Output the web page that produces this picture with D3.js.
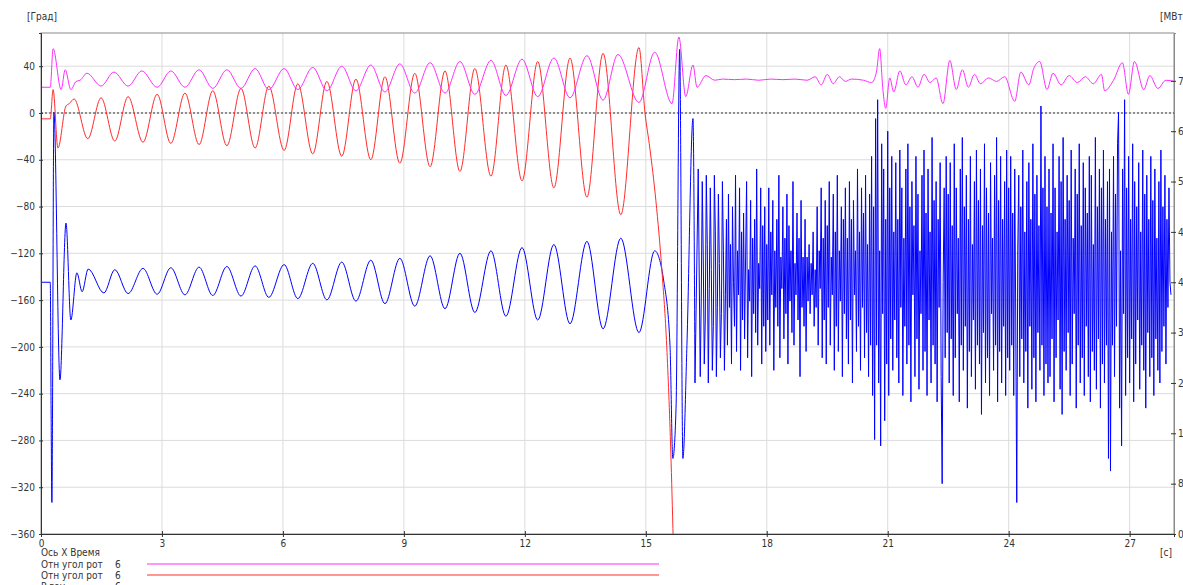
<!DOCTYPE html>
<html>
<head>
<meta charset="utf-8">
<script src="https://cdn.jsdelivr.net/npm/d3@7"></script>
<style>
body { margin: 0; background: #fff; }
svg text { font-family: "DejaVu Sans Condensed", "DejaVu Sans", sans-serif; font-size: 10px; fill: #333; }
</style>
</head>
<body>
<svg id="chart" width="1183" height="585"></svg>
<script>
// axis ticks
let xTicks = [0, 3, 6, 9, 12, 15, 18, 21, 24, 27];
let leftTicks = [-360, -320, -280, -240, -200, -160, -120, -80, -40, 0, 40];
let rightTicks = [0, 8, 16, 24, 32, 40, 48, 56, 64, 72];

// Отн угол рот (magenta), degrees
let magT = [0, 0.23, 0.30, 0.50, 0.60, 0.74, 0.87, 0.97, 1.14, 1.49, 1.81, 2.16, 2.50, 2.88, 3.22, 3.57, 3.92, 4.26, 4.61, 4.96,
    5.31, 5.65, 6.03, 6.37, 6.74, 7.09, 7.46, 7.81, 8.18, 8.53, 8.90, 9.27, 9.65, 10.02, 10.39, 10.76, 11.16, 11.53, 11.93, 12.32,
    12.72, 13.12, 13.54, 13.94, 14.31, 14.83, 15.22, 15.65, 15.82, 15.99, 16.17, 16.27, 16.49, 16.71, 16.9, 17.2, 17.5, 17.8, 18.1, 18.4,
    18.7, 19.0, 19.2, 19.35, 19.5, 19.65, 19.8, 19.95, 20.1, 20.4, 20.6, 20.72, 20.8, 20.88, 20.95, 21.05, 21.15, 21.3, 21.45, 21.6,
    21.75, 21.9, 22.05, 22.2, 22.37, 22.54, 22.7, 22.85, 23.0, 23.15, 23.3, 23.5, 23.7, 23.9, 24.15, 24.3, 24.5, 24.62, 24.77, 24.95,
    25.1, 25.3, 25.5, 25.7, 25.9, 26.1, 26.3, 26.38, 26.6, 26.82, 26.97, 27.12, 27.35, 27.5, 27.7, 27.9, 28.1];
let magV = [22, 22, 55, 20, 37, 20, 27, 28, 34, 23, 35, 23, 36, 22, 36, 22, 37, 21, 37, 21,
    38, 20, 38, 20, 39, 19, 40, 19, 41, 18, 42, 17, 43, 17, 44, 16, 45, 15, 46, 14,
    47, 13, 49, 11, 50, 9, 52, 8, 65, 14, 41, 22, 32, 28, 29, 28.5, 29, 28, 29, 28.5,
    29, 28, 31, 24, 33, 25, 31, 27, 29, 28, 26, 35, 55, 20, 4, 30, 18, 36, 24, 31,
    22, 33, 26, 30, 8, 45, 20, 37, 22, 33, 25, 30, 27, 31, 10, 35, 24, 38, 44, 20,
    34, 24, 32, 26, 31, 25, 33, 19, 28, 43, 16, 44, 20, 32, 21, 28, 27];

// Отн угол рот (red), degrees
let redT = [0, 0.23, 0.30, 0.42, 0.62, 0.70, 0.82, 1.16, 1.49, 1.83, 2.16, 2.53, 2.88, 3.22, 3.57, 3.92, 4.26, 4.61, 4.96, 5.31,
    5.65, 6.03, 6.37, 6.74, 7.09, 7.46, 7.81, 8.18, 8.53, 8.90, 9.27, 9.65, 10.02, 10.39, 10.76, 11.16, 11.53, 11.93, 12.32, 12.72,
    13.12, 13.54, 13.94, 14.38, 14.83, 14.98, 15.10, 15.25, 15.40, 15.52, 15.62, 15.68];
let redV = [-5, -5, 20, -30, 6, 8, 12, -22, 13, -24, 14, -25, 16, -26, 17, -27, 19, -28, 21, -30,
    23, -32, 25, -35, 27, -37, 29, -40, 31, -43, 34, -46, 36, -50, 38, -54, 41, -58, 44, -64,
    47, -72, 51, -87, 56, 0, -30, -75, -135, -200, -290, -365];

// third series (blue), MW, smooth part
let blueT = [0, 0.23, 0.25, 0.27, 0.32, 0.47, 0.62, 0.74, 0.89, 1.02, 1.17, 1.56, 1.83, 2.16, 2.53, 2.88, 3.22, 3.57, 3.92, 4.26,
    4.61, 4.96, 5.31, 5.65, 6.03, 6.37, 6.74, 7.09, 7.46, 7.81, 8.18, 8.53, 8.90, 9.27, 9.65, 10.02, 10.39, 10.76, 11.16, 11.53,
    11.93, 12.32, 12.72, 13.12, 13.54, 13.94, 14.38, 14.83, 15.22, 15.45, 15.60, 15.67, 15.75, 15.84, 15.92, 16.02, 16.17, 16.22];
let blueV = [40, 40, 20, 5, 67, 24.5, 49.4, 34, 41.5, 38.5, 42.1, 38.3, 42.0, 38.2, 42.2, 38.1, 42.3, 38.0, 42.4, 37.9,
    42.5, 37.8, 42.6, 37.6, 42.8, 37.4, 43.0, 37.2, 43.2, 37.0, 43.5, 36.6, 43.8, 36.2, 44.2, 35.8, 44.6, 35.2, 45.0, 34.6,
    45.5, 34.0, 46.0, 33.4, 46.5, 32.6, 47.0, 32.0, 45.0, 40, 30, 12, 20, 77, 12, 30, 66, 24];

// blue, dense part: one sample every 0.025 s from 16.30 s
let blueDenseStart = 16.30;
let blueDenseStep = 0.025;
let blueDense = [
    // 16.30 - 17.0
    58, 41, 25, 37, 56, 44, 27, 34, 57, 46, 24, 39, 55, 42, 26, 33, 57, 48, 25, 36, 54, 43, 28, 35, 56, 45, 26, 38,
    // 17 - 18
    50, 30, 54, 36, 46, 27, 52, 40, 33, 57, 29, 45, 38, 55, 26, 48, 34, 51, 31, 44, 56, 28, 42, 37, 53, 25, 47, 35, 50, 32,
    58, 30, 43, 39, 55, 27, 49, 33, 52, 29,
    // 18 - 19
    46, 34, 55, 30, 48, 38, 53, 26, 45, 36, 50, 33, 57, 28, 44, 39, 52, 31, 47, 35, 54, 27, 49, 37, 45, 32, 56, 30, 43, 38,
    51, 34, 47, 25, 53, 36, 44, 33, 50, 29,
    // 19 - 20
    44, 37, 46, 35, 43, 38, 48, 33, 42, 36, 52, 30, 45, 39, 55, 28, 47, 34, 53, 27, 49, 36, 56, 30, 44, 38, 54, 26, 48, 33,
    57, 29, 45, 37, 52, 25, 50, 35, 55, 31,
    // 20 - 20.6
    47, 27, 56, 34, 50, 24, 53, 38, 45, 29, 58, 33, 48, 26, 55, 36, 51, 28, 57, 32, 46, 25, 54, 30,
    // 20.6 - 21.2
    60, 22, 52, 15, 66, 30, 69, 24, 45, 14, 62, 35, 58, 18, 50, 27, 64, 22, 55, 31, 60, 26, 48, 34,
    // 21.2 - 22.5
    59, 28, 50, 24, 61, 36, 55, 22, 47, 33, 58, 27, 62, 30, 52, 21, 56, 38, 49, 25, 60, 31, 54, 23, 45, 35, 57, 26, 61, 29,
    51, 22, 58, 34, 48, 24, 63, 30, 53, 27, 56, 21, 50, 36, 59, 25, 8, 40, 55, 28, 60, 32,
    // 22.5 - 24
    54, 24, 59, 31, 49, 22, 62, 28, 55, 35, 47, 21, 58, 30, 63, 26, 52, 33, 57, 20, 50, 29, 60, 25, 46, 34, 56, 23, 61, 30,
    53, 27, 58, 19, 49, 32, 62, 24, 55, 28, 51, 22, 59, 35, 47, 26, 57, 30, 63, 21, 53, 29, 60, 24, 50, 33, 56, 22, 61, 28,
    // 24 - 25
    55, 26, 60, 30, 51, 22, 58, 34, 5, 45, 57, 25, 52, 31, 61, 24, 48, 29, 56, 20, 59, 33, 50, 23, 62, 28, 54, 21, 57, 32,
    49, 26, 68, 30, 55, 22, 60, 27, 52, 24,
    // 25 - 26.5
    58, 25, 51, 31, 62, 21, 55, 28, 48, 34, 60, 23, 56, 19, 63, 29, 50, 26, 57, 32, 53, 22, 61, 27, 47, 35, 58, 20, 54, 30,
    62, 24, 49, 28, 59, 22, 55, 33, 51, 25, 60, 21, 57, 29, 46, 26, 63, 23, 52, 31, 58, 20, 55, 27, 61, 24, 50, 30, 56, 12,
    // 26.5 - 28
    58, 10, 48, 30, 60, 25, 54, 33, 62, 67, 20, 45, 14, 58, 35, 69, 22, 55, 28, 60, 24, 50, 31, 62, 21, 56, 27, 52, 34, 59,
    23, 48, 30, 61, 26, 54, 20, 57, 32, 50, 25, 60, 28, 53, 22, 58, 31, 47, 26, 56, 24, 61, 29, 52, 33, 57, 27, 50, 36, 55,
    40, 38];

let legendNames = ["Отн угол рот", "Отн угол рот", "Р ген"];
let legendNums = ["6", "6", "6"];
let legendColors = ["#ff2cff", "#ff2c2c", "#0000ff"];

let svg = d3.select("#chart");
let plotL = 41, plotR = 1174, plotT = 33, plotB = 534;

let x = d3.scaleLinear().domain([0, 28.1]).range([plotL, plotR]);
let yL = d3.scaleLinear().domain([-360, 68.4]).range([plotB, plotT]);
let yR = d3.scaleLinear().domain([0, 79.6]).range([plotB, plotT]);

svg.append("defs").append("clipPath").attr("id", "plotclip")
    .append("rect").attr("x", plotL).attr("y", plotT)
    .attr("width", plotR - plotL).attr("height", plotB - plotT);

// grid
svg.append("g").selectAll("line").data(xTicks.slice(1)).enter().append("line")
    .attr("x1", d => x(d)).attr("x2", d => x(d))
    .attr("y1", plotT).attr("y2", plotB)
    .attr("stroke", "#dcdcdc").attr("stroke-width", 1);
svg.append("g").selectAll("line").data(leftTicks.slice(1)).enter().append("line")
    .attr("x1", plotL).attr("x2", plotR)
    .attr("y1", d => yL(d)).attr("y2", d => yL(d))
    .attr("stroke", "#dcdcdc").attr("stroke-width", 1);

// frame
svg.append("rect").attr("x", plotL).attr("y", plotT)
    .attr("width", plotR - plotL).attr("height", plotB - plotT)
    .attr("fill", "none").attr("stroke", "#8a8a8a");

// zero line
svg.append("line").attr("x1", plotL).attr("x2", plotR)
    .attr("y1", yL(0)).attr("y2", yL(0))
    .attr("stroke", "#333").attr("stroke-dasharray", "2,2");

// series
let plot = svg.append("g").attr("clip-path", "url(#plotclip)");
let smoothLine = (xs, ys, sc) => d3.line().curve(d3.curveMonotoneX)
    .x((d, i) => x(xs[i])).y((d, i) => sc(ys[i]))(xs);

plot.append("path").attr("d", smoothLine(blueT, blueV, yR))
    .attr("fill", "none").attr("stroke", legendColors[2]).attr("stroke-width", 1);
let densePts = [[blueT[blueT.length - 1], blueV[blueV.length - 1]]];
blueDense.forEach((v, i) => densePts.push([blueDenseStart + i * blueDenseStep, v]));
plot.append("path")
    .attr("d", d3.line().x(d => x(d[0])).y(d => yR(d[1]))(densePts))
    .attr("fill", "none").attr("stroke", legendColors[2]).attr("stroke-width", 1);
plot.append("path").attr("d", smoothLine(redT, redV, yL))
    .attr("fill", "none").attr("stroke", legendColors[1]).attr("stroke-width", 1);
plot.append("path").attr("d", smoothLine(magT, magV, yL))
    .attr("fill", "none").attr("stroke", legendColors[0]).attr("stroke-width", 1);

// axes
let axL = svg.append("g").attr("transform", `translate(${plotL},0)`)
    .call(d3.axisLeft(yL).tickValues(leftTicks).tickSize(2).tickPadding(4));
let axB = svg.append("g").attr("transform", `translate(0,${plotB})`)
    .call(d3.axisBottom(x).tickValues(xTicks).tickSize(3).tickPadding(3));
let axR = svg.append("g").attr("transform", `translate(${plotR},0)`)
    .call(d3.axisRight(yR).tickValues(rightTicks).tickSize(2).tickPadding(2));
[axL, axB, axR].forEach(a => {
    a.selectAll("text").attr("fill", "#333").style("font-size", "10px");
    a.selectAll("line").attr("stroke", "#333");
    a.select(".domain").attr("stroke", "#333");
});
axL.selectAll(".tick line").attr("x1", 2);
axR.selectAll(".tick line").attr("x1", -3);
axB.selectAll(".tick line").attr("y1", -3);
axR.select(".domain").attr("stroke", "#8a8a8a");

// unit labels
svg.append("text").attr("x", 27).attr("y", 20).text("[Град]");
svg.append("text").attr("x", 1160).attr("y", 20).text("[МВт]");
svg.append("text").attr("x", 1160).attr("y", 556).text("[с]");

// legend
svg.append("text").attr("x", 41).attr("y", 556).text("Ось X  Время");
legendNames.forEach((name, i) => {
    let y0 = 568 + i * 11;
    svg.append("text").attr("x", 41).attr("y", y0).text(name);
    svg.append("text").attr("x", 115).attr("y", y0).text(legendNums[i]);
    svg.append("line").attr("x1", 147).attr("x2", 659)
        .attr("y1", y0 - 4).attr("y2", y0 - 4)
        .attr("stroke", legendColors[i]).attr("stroke-width", 1);
});
</script>
</body>
</html>
